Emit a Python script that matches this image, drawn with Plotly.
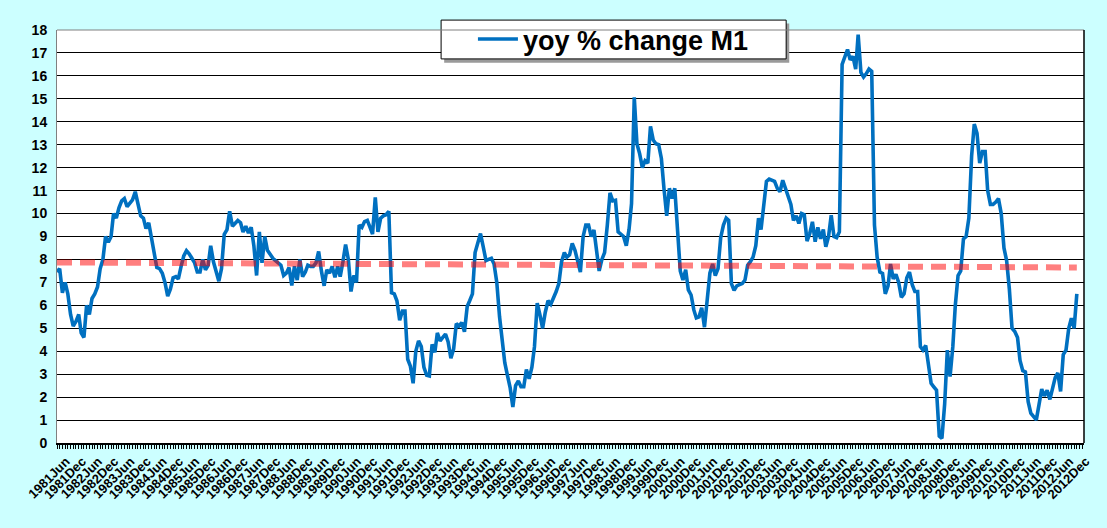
import pandas as pd
import plotly.graph_objects as go

# yoy % change in M1, monthly, 1981 Jun .. 2012 Dec
m1_yoy = [
    7.45, 7.6, 6.55, 7.0, 6.5, 5.6, 5.1, 5.3, 5.6, 4.8, 4.6, 6.0,
    5.6, 6.3, 6.5, 6.8, 7.6, 8.0, 9.0, 8.75, 9.0, 10.0, 9.8, 10.25,
    10.55, 10.65, 10.3, 10.45, 10.6, 10.95, 10.5, 9.9, 9.8, 9.35, 9.6, 8.95,
    8.45, 7.65, 7.6, 7.4, 7.0, 6.4, 6.7, 7.2, 7.25, 7.15, 7.7, 8.15,
    8.38, 8.25, 8.05, 7.85, 7.45, 7.45, 8.0, 7.55, 7.75, 8.6, 7.9, 7.4,
    7.05, 7.6, 9.1, 9.3, 10.1, 9.45, 9.6, 9.7, 9.6, 9.2, 9.45, 9.15,
    9.4, 8.6, 7.3, 9.2, 7.85, 9.0, 8.4, 8.2, 8.05, 7.95, 7.85, 7.75,
    7.3, 7.4, 7.65, 6.86, 7.7, 7.1, 8.0, 7.25, 7.45, 7.75, 7.7, 7.7,
    7.85, 8.35, 7.5, 6.85, 7.55, 7.4, 7.7, 7.22, 7.7, 7.25, 7.9, 8.65,
    8.0, 6.6, 7.3, 7.0, 9.5, 9.4, 9.65, 9.7, 9.4, 9.1, 10.7, 9.2,
    9.8, 9.9, 9.95, 10.1, 6.55, 6.5, 6.2, 5.35, 5.75, 5.75, 3.65, 3.35,
    2.6, 4.0, 4.45, 4.2, 3.3, 2.95, 2.92, 4.3, 3.95, 4.8, 4.45, 4.6,
    4.75, 4.4, 3.7, 4.1, 5.2, 5.1, 5.25, 4.85, 5.95, 6.2, 6.5, 8.3,
    8.8, 9.13, 8.55, 7.95, 8.0, 8.05, 7.8, 7.0, 5.5, 4.6, 3.5, 2.95,
    2.4, 1.57, 2.5, 2.7, 2.45, 2.45, 3.2, 2.8, 3.3, 4.2, 6.1, 5.6,
    5.0, 5.7, 6.2, 6.05, 6.3, 6.6, 6.95, 7.9, 8.3, 8.1, 8.2, 8.7,
    8.4, 8.0, 7.45, 9.0, 9.5, 9.5, 9.0, 9.28, 8.35, 7.5, 8.0, 8.3,
    9.5, 10.9, 10.55, 10.58, 9.2, 9.12, 9.0, 8.6, 9.3, 10.43, 15.07, 13.04,
    12.6, 12.0, 12.3, 12.2, 13.8, 13.2, 13.04, 13.0, 12.4, 11.1, 9.9, 11.1,
    10.65, 11.1, 9.5, 7.5, 7.1, 7.55, 6.67, 6.45, 5.8, 5.45, 5.5, 5.9,
    5.05, 6.1, 7.4, 7.8, 7.3, 7.6, 8.95, 9.5, 9.8, 9.7, 6.95, 6.65,
    6.85, 6.9, 6.95, 7.1, 7.75, 7.9, 8.1, 8.6, 9.8, 9.3, 10.3, 11.4,
    11.5, 11.45, 11.4, 11.1, 10.95, 11.45, 11.1, 10.8, 10.4, 9.7, 9.9, 9.57,
    10.0, 9.95, 8.8, 9.13, 9.64, 8.77, 9.4, 8.9, 9.3, 8.55, 9.0, 9.93,
    9.0, 8.95, 9.2, 16.5, 16.8, 17.15, 16.7, 16.85, 16.3, 17.8, 16.15, 15.95,
    16.1, 16.3, 16.2, 9.5, 8.1, 7.45, 7.39, 6.5, 6.85, 7.8, 7.15, 7.35,
    7.0, 6.35, 6.5, 7.2, 7.45, 6.9, 6.6, 6.6, 4.2, 4.05, 4.25, 3.4,
    2.6, 2.45, 2.3, 0.3, 0.2, 1.7, 4.05, 2.9, 4.2, 6.0, 7.3, 7.5,
    8.9, 9.0, 9.8, 12.5, 13.9, 13.5, 12.2, 12.7, 12.7, 11.0, 10.4, 10.4,
    10.5, 10.65, 10.0, 8.5, 7.95, 6.7, 5.0, 4.86, 4.6, 3.6, 3.15, 3.1,
    1.8, 1.3, 1.13, 1.01, 1.66, 2.35, 2.05, 2.3, 1.9, 2.3, 2.85, 3.05,
    2.25, 3.85, 4.05, 5.0, 5.44, 5.0, 6.5,
]
months = pd.date_range("1981-06-01", periods=len(m1_yoy), freq="MS")

# dashed trend line, value at first and last month
trend_x = [months[0], months[-1]]
trend_y = [7.87, 7.65]

font = "Liberation Sans, Arial, sans-serif"

fig = go.Figure()
fig.add_trace(go.Scatter(x=months, y=m1_yoy, mode="lines", name="yoy % change M1",
                         line=dict(color="#0070C0", width=3.6)))
fig.add_trace(go.Scatter(x=trend_x, y=trend_y, mode="lines", showlegend=False,
                         line=dict(color="rgba(255,0,0,0.5)", width=6, dash="15px,8px")))

# legend box + shadow
fig.add_shape(type="rect", xref="paper", yref="paper", x0=0.377, x1=0.713, y0=0.921, y1=1.016,
              line=dict(width=0), fillcolor="#9a9a9a", layer="above")
fig.add_shape(type="rect", xref="paper", yref="paper", x0=0.374, x1=0.710, y0=0.930, y1=1.024,
              line=dict(color="black", width=1), fillcolor="white", layer="above")
# plot border: top grey, right dark
fig.add_shape(type="line", xref="paper", yref="paper", x0=0, x1=1, y0=1, y1=1,
              line=dict(color="#808080", width=1))
fig.add_shape(type="line", xref="paper", yref="paper", x0=1, x1=1, y0=0, y1=1,
              line=dict(color="black", width=1.5))

fig.update_layout(
    width=1107, height=528,
    margin=dict(l=57, r=23, t=30, b=85, autoexpand=False),
    paper_bgcolor="#CCFFFF", plot_bgcolor="white",
    font=dict(family=font, color="black"),
    showlegend=True,
    legend=dict(x=0.405, y=0.977, xanchor="left", yanchor="middle",
                bgcolor="rgba(0,0,0,0)", borderwidth=0, itemwidth=40,
                font=dict(family=font, size=27, weight=700, color="black")),
    xaxis=dict(type="date", range=["1981-06-01", "2013-02-20"],
               tick0="1981-06-01", dtick="M6", tickformat="%Y%b", tickangle=-45,
               tickfont=dict(family=font, size=13, weight=700), ticklabelshift=9,
               ticks="outside", ticklen=4, tickcolor="black",
               minor=dict(dtick="M1", ticks="outside", ticklen=4, tickcolor="black", showgrid=False),
               showgrid=False, showline=True, linecolor="black", linewidth=1.5),
    yaxis=dict(range=[0, 18], dtick=1, tickfont=dict(family=font, size=14, weight=700),
               showgrid=True, gridcolor="black", gridwidth=1, zeroline=False,
               showline=True, linecolor="#808080", ticks="", ticklabelstandoff=6),
)

fig.write_html("out.html", config={"displayModeBar": False},
               post_script="document.body.style.margin='0';document.body.style.overflow='hidden';")
